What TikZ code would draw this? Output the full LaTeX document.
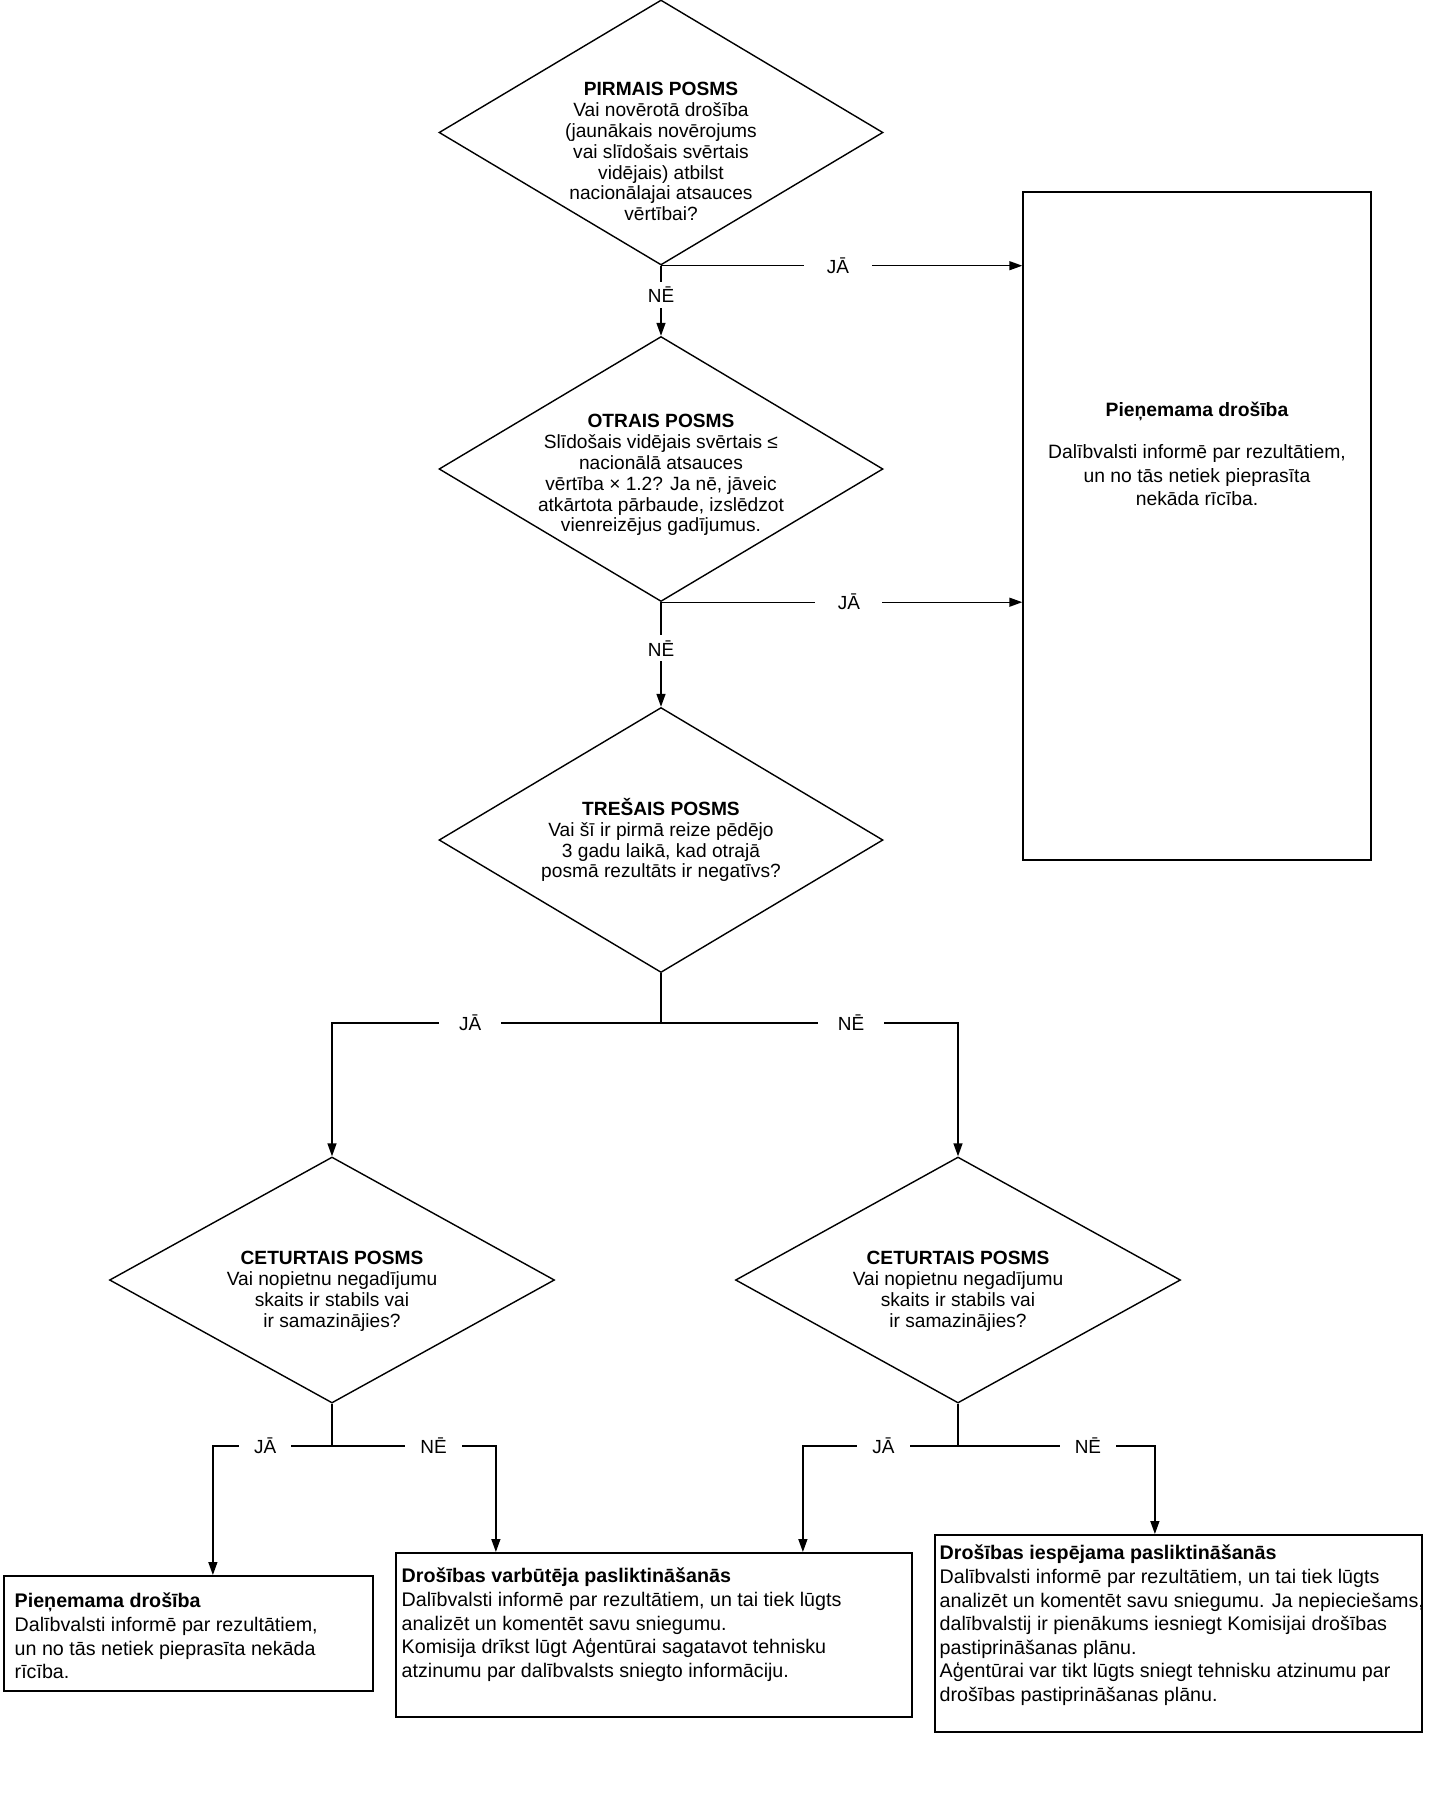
\documentclass[tikz,border=0pt]{standalone}
\usepackage{fontspec}
\setmainfont{Liberation Sans}
\usetikzlibrary{arrows.meta,shapes.geometric}

\begin{document}
\begin{tikzpicture}[line width=.8pt,
  decision/.style={draw,shape=diamond,minimum width=8.88cm,minimum height=5.3cm,inner sep=0pt},
  qtext/.style={align=center,inner sep=0pt,font=\fontsize{10.9}{11.9}\selectfont},
  outbox/.style={draw,line width=1pt,anchor=north west,inner sep=0pt},
  btext/.style={align=left,anchor=north west,inner sep=0pt,font=\fontsize{11.2}{13.4}\selectfont},
  lbl/.style={fill=white,inner xsep=.3cm,inner ysep=.1cm,font=\fontsize{10.8}{12}\selectfont},
  arr/.style={-{Triangle[length=2.6mm,width=1.8mm]}}]
\useasboundingbox (0,0) rectangle (28.62,-35.94);
% decisions
\node[decision] (s1) at (13.22,-2.65) {};
\node[qtext] (s1t) at (13.22,-3.03) {\textbf{PIRMAIS POSMS}\\Vai novērotā drošība\\(jaunākais novērojums\\vai slīdošais svērtais\\vidējais) atbilst\\nacionālajai atsauces\\vērtībai?};
\node[decision] (s2) at (13.22,-9.38) {};
\node[qtext] (s2t) at (13.22,-9.5) {\textbf{OTRAIS POSMS}\\Slīdošais vidējais svērtais ≤\\nacionālā atsauces\\vērtība × 1.2? Ja nē, jāveic\\atkārtota pārbaude, izslēdzot\\vienreizējus gadījumus.};
\node[decision] (s3) at (13.22,-16.8) {};
\node[qtext] (s3t) at (13.22,-16.8) {\textbf{TREŠAIS POSMS}\\Vai šī ir pirmā reize pēdējo\\3 gadu laikā, kad otrajā\\posmā rezultāts ir negatīvs?};
\node[decision,minimum width=8.9cm,minimum height=4.92cm] (s4a) at (6.64,-25.6) {};
\node[qtext] (s4at) at (6.64,-25.82) {\textbf{CETURTAIS POSMS}\\Vai nopietnu negadījumu\\skaits ir stabils vai\\ir samazinājies?};
\node[decision,minimum width=8.9cm,minimum height=4.92cm] (s4b) at (19.16,-25.6) {};
\node[qtext] (s4bt) at (19.16,-25.82) {\textbf{CETURTAIS POSMS}\\Vai nopietnu negadījumu\\skaits ir stabils vai\\ir samazinājies?};
% outcomes
\node[draw,minimum width=6.96cm,minimum height=13.36cm] (accept) at (23.94,-10.52) {};
\node[qtext,font=\fontsize{11}{13.4}\selectfont] (acceptt) at (23.94,-9.08) {\textbf{Pieņemama drošība}\\[.38cm]Dalībvalsti informē par rezultātiem,\\un no tās netiek pieprasīta\\nekāda rīcība.};
\node[outbox,minimum width=7.38cm,minimum height=2.3cm] (accept2) at (0.06,-31.5) {};
\node[btext] (accept2t) at (0.28,-31.85) {\textbf{Pieņemama drošība}\\Dalībvalsti informē par rezultātiem,\\un no tās netiek pieprasīta nekāda\\rīcība.};
\node[outbox,minimum width=10.32cm,minimum height=3.28cm] (worse) at (7.9,-31.04) {};
\node[btext] (worset) at (8.02,-31.35) {\textbf{Drošības varbūtēja pasliktināšanās}\\Dalībvalsti informē par rezultātiem, un tai tiek lūgts\\analizēt un komentēt savu sniegumu.\\Komisija drīkst lūgt Aģentūrai sagatavot tehnisku\\atzinumu par dalībvalsts sniegto informāciju.};
\node[outbox,minimum width=9.74cm,minimum height=3.94cm] (worse2) at (18.68,-30.68) {};
\node[btext] (worse2t) at (18.78,-30.89) {\textbf{Drošības iespējama pasliktināšanās}\\Dalībvalsti informē par rezultātiem, un tai tiek lūgts\\analizēt un komentēt savu sniegumu. Ja nepieciešams,\\dalībvalstij ir pienākums iesniegt Komisijai drošības\\pastiprināšanas plānu.\\Aģentūrai var tikt lūgts sniegt tehnisku atzinumu par\\drošības pastiprināšanas plānu.};
\coordinate (fork3) at (13.22,-20.46);
\coordinate (fork4a) at (6.64,-28.92);
\coordinate (fork4b) at (19.16,-28.92);
% connectors
\draw[arr] (s1.south) -- node[lbl,inner xsep=.45cm,pos=.49]{JĀ} (s1.south -| accept.west);
\draw[arr] (s1.south) -- node[lbl,pos=.42]{NĒ} (s2.north);
\draw[arr] (s2.south) -- node[lbl,inner xsep=.45cm,pos=.52]{JĀ} (s2.south -| accept.west);
\draw[arr] (s2.south) -- node[lbl,pos=.44]{NĒ} (s3.north);
\draw (s3.south) -- (fork3);
\draw[arr] (fork3) -| node[lbl,inner xsep=.4cm,pos=.29]{JĀ} (s4a.north);
\draw[arr] (fork3) -| node[lbl,inner xsep=.4cm,pos=.32]{NĒ} (s4b.north);
\draw (s4a.south) -- (fork4a);
\draw[arr] (fork4a) -| node[lbl,pos=.28]{JĀ} ([xshift=.49cm]accept2.north);
\draw[arr] (fork4a) -| node[lbl,pos=.31]{NĒ} ([xshift=-3.16cm]worse.north);
\draw (s4b.south) -- (fork4b);
\draw[arr] (fork4b) -| node[lbl,pos=.24]{JĀ} ([xshift=2.98cm]worse.north);
\draw[arr] (fork4b) -| node[lbl,pos=.33]{NĒ} ([xshift=-.47cm]worse2.north);
\end{tikzpicture}
\end{document}
